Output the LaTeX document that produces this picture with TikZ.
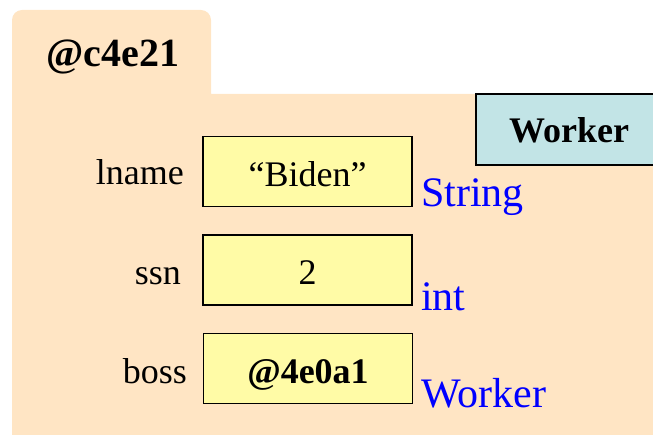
\documentclass[tikz,border=0pt]{standalone}
\usepackage{fontspec}
\setmainfont{Liberation Serif}
\definecolor{folderpeach}{RGB}{255,229,196}
\definecolor{slotyellow}{RGB}{255,251,166}
\definecolor{classblue}{RGB}{194,228,230}
\definecolor{typeblue}{RGB}{0,0,255}
\begin{document}
\begin{tikzpicture}[x=1pt,y=1pt,
  slot/.style={draw=black, line width=1.8pt, fill=slotyellow,
    minimum width=209pt, minimum height=70pt, inner sep=0pt,
    text height=30pt, text depth=0pt,
    font=\fontsize{36}{40}\selectfont},
  fieldname/.style={anchor=base east, inner sep=0pt,
    font=\fontsize{36}{40}\selectfont},
  typename/.style={anchor=base west, inner sep=0pt, text=typeblue,
    font=\fontsize{42}{46}\selectfont},
  classbox/.style={draw=black, line width=1.8pt, fill=classblue,
    minimum width=186pt, minimum height=71pt, inner sep=0pt,
    text height=26pt, text depth=0pt,
    font=\bfseries\fontsize{36}{40}\selectfont}]
\useasboundingbox (0,0) rectangle (653,434);
% folder with tab
\fill[folderpeach] (12,-5) -- (12,414) arc[start angle=180, end angle=90, radius=10]
  -- (201,424) arc[start angle=90, end angle=0, radius=10]
  -- (211,340) -- (660,340) -- (660,-5) -- cycle;
\node[anchor=base, inner sep=0pt, font=\bfseries\fontsize{40}{44}\selectfont]
  (objid) at (113,367) {@c4e21};
% class name, running off the right edge
\node[classbox] (cls) at (569,304.5) {Worker};
% fields
\node[slot] (lnamebox) at (307.5,262.5) {“Biden”};
\node[slot] (ssnbox) at (307.5,164) {2};
\node[slot, font=\bfseries\fontsize{36}{40}\selectfont] (bossbox) at (308,65.5) {@4e0a1};
\node[fieldname] (lname) at (184,249) {lname};
\node[fieldname] (ssn) at (181,149) {ssn};
\node[fieldname] (boss) at (187,51) {boss};
\node[typename] (tstring) at (421,227) {String};
\node[typename] (tint) at (421,124) {int};
\node[typename] (tworker) at (421,27) {Worker};
\end{tikzpicture}
\end{document}
